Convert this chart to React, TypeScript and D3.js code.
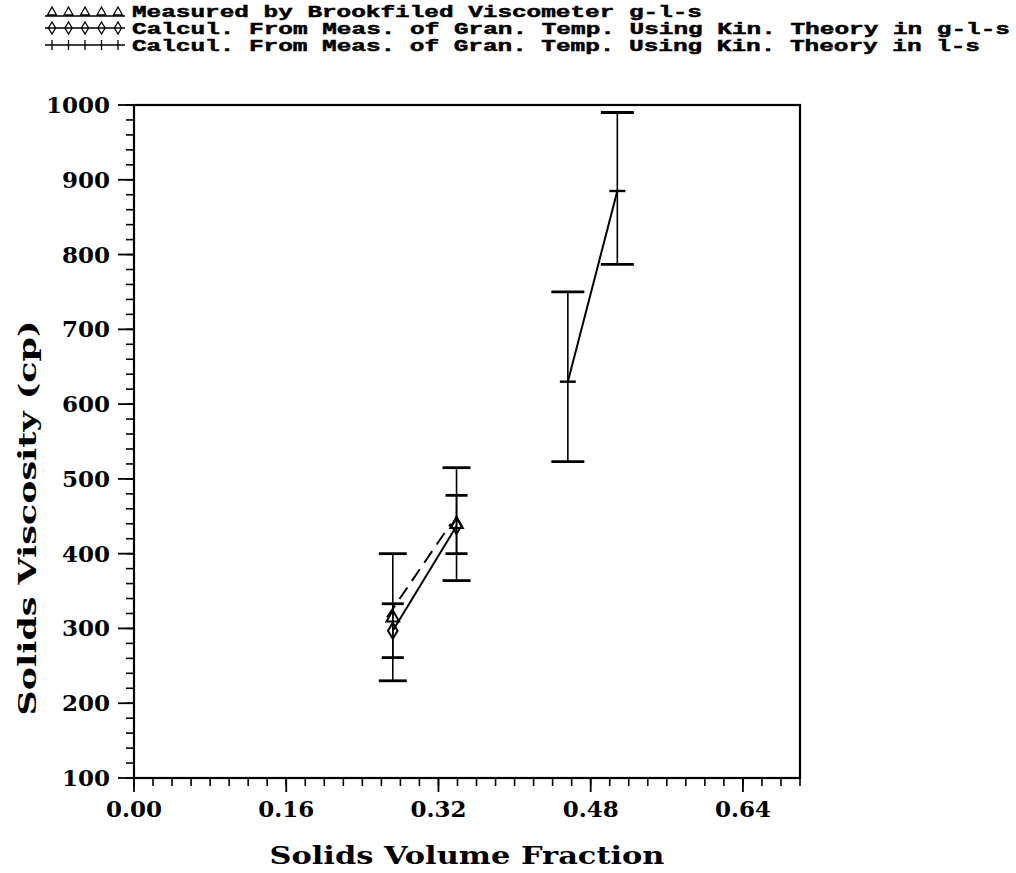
import React from "react";
import * as d3 from "d3";

const xTickValues = [0, 0.16, 0.32, 0.48, 0.64];
const xTickLabels = ["0.00", "0.16", "0.32", "0.48", "0.64"];
const yTickValues = [100, 200, 300, 400, 500, 600, 700, 800, 900, 1000];
const yTickLabels = ["100", "200", "300", "400", "500", "600", "700", "800", "900", "1000"];

const legendLabels = [
  "Measured by Brookfiled Viscometer g-l-s",
  "Calcul. From Meas. of Gran. Temp. Using Kin. Theory in g-l-s",
  "Calcul. From Meas. of Gran. Temp. Using Kin. Theory in l-s",
];

// Measured by Brookfield viscometer (g-l-s)
const measuredX = [0.272, 0.339];
const measuredY = [315, 440];
const measuredLo = [230, 364];
const measuredHi = [400, 515];

// Calculated, g-l-s
const calcGlsX = [0.272, 0.339];
const calcGlsY = [297, 437];
const calcGlsLo = [261, 400];
const calcGlsHi = [333, 478];

// Calculated, l-s
const calcLsX = [0.456, 0.508];
const calcLsY = [630, 885];
const calcLsLo = [523, 787];
const calcLsHi = [750, 990];

const W = 1016;
const H = 873;

export default function App() {
  const x = d3.scaleLinear().domain([0, 0.7]).range([134, 800]);
  const y = d3.scaleLinear().domain([100, 1000]).range([778, 105]);
  const line = d3
    .line<[number, number]>()
    .x((d) => x(d[0]))
    .y((d) => y(d[1]));

  const xMinor = d3.range(0, 0.7001, 0.02);
  const yMinor = d3.range(100, 1000.001, 20);

  const tickFont = "'DejaVu Serif', serif";
  const titleFont = "'DejaVu Serif', serif";
  const legendFont = "'Liberation Mono', monospace";

  const tri = (cx: number, cy: number, s: number) =>
    `M${cx},${cy - s} L${cx + s * 0.9},${cy + s * 0.6} L${cx - s * 0.9},${cy + s * 0.6} Z`;
  const dia = (cx: number, cy: number, s: number) =>
    `M${cx},${cy - s} L${cx + s * 0.6},${cy} L${cx},${cy + s} L${cx - s * 0.6},${cy} Z`;

  const errBars = (
    xs: number[],
    lo: number[],
    hi: number[],
    cap: number,
    key: string
  ) =>
    xs.map((xv, i) => (
      <g key={key + i} stroke="#000">
        <line x1={x(xv)} x2={x(xv)} y1={y(lo[i])} y2={y(hi[i])} strokeWidth={1.6} />
        <line x1={x(xv) - cap / 2} x2={x(xv) + cap / 2} y1={y(lo[i])} y2={y(lo[i])} strokeWidth={2.8} />
        <line x1={x(xv) - cap / 2} x2={x(xv) + cap / 2} y1={y(hi[i])} y2={y(hi[i])} strokeWidth={2.8} />
      </g>
    ));

  const legendY = [17, 34, 51];
  const legendLen = [570, 878, 848];
  const sampleX = d3.range(5).map((i) => 52 + i * 16.5);

  return (
    <svg
      width={W}
      height={H}
      style={{ position: "absolute", left: 0, top: 0, background: "#fff" }}
    >
      <rect x={0} y={0} width={W} height={H} fill="#fff" />

      {/* Legend */}
      {legendLabels.map((t, i) => (
        <text
          key={"lg" + i}
          x={132}
          y={legendY[i]}
          fontFamily={legendFont}
          fontWeight="bold"
          fontSize={17}
          textLength={legendLen[i]}
          lengthAdjust="spacingAndGlyphs"
          fill="#000"
          stroke="#000"
          strokeWidth={0.5}
        >
          {t}
        </text>
      ))}
      {/* legend sample 1: triangles */}
      <line x1={45} x2={125} y1={legendY[0] - 1} y2={legendY[0] - 1} stroke="#000" strokeWidth={1.5} />
      {sampleX.map((sx, i) => (
        <path key={"lt" + i} d={tri(sx, legendY[0] - 5, 5)} fill="none" stroke="#000" strokeWidth={1.3} />
      ))}
      {/* legend sample 2: diamonds */}
      <line x1={45} x2={125} y1={legendY[1] - 6} y2={legendY[1] - 6} stroke="#000" strokeWidth={1.5} />
      {sampleX.map((sx, i) => (
        <path key={"ld" + i} d={dia(sx, legendY[1] - 6, 6)} fill="none" stroke="#000" strokeWidth={1.3} />
      ))}
      {/* legend sample 3: plus */}
      <line x1={45} x2={125} y1={legendY[2] - 6} y2={legendY[2] - 6} stroke="#000" strokeWidth={1.5} />
      {sampleX.map((sx, i) => (
        <line key={"lp" + i} x1={sx} x2={sx} y1={legendY[2] - 11} y2={legendY[2] - 1} stroke="#000" strokeWidth={1.3} />
      ))}

      {/* Frame */}
      <rect x={134} y={105} width={800 - 134} height={778 - 105} fill="none" stroke="#000" strokeWidth={2.2} />

      {/* X ticks */}
      {xMinor.map((v, i) => (
        <line key={"xm" + i} x1={x(v)} x2={x(v)} y1={778} y2={786} stroke="#000" strokeWidth={1.6} />
      ))}
      {xTickValues.map((v, i) => (
        <g key={"xt" + i}>
          <line x1={x(v)} x2={x(v)} y1={778} y2={792} stroke="#000" strokeWidth={1.8} />
          <text
            x={x(v)}
            y={817}
            textAnchor="middle"
            fontFamily={tickFont}
            fontWeight="bold"
            fontSize={23}
            fill="#000"
          >
            {xTickLabels[i]}
          </text>
        </g>
      ))}

      {/* Y ticks */}
      {yMinor.map((v, i) => (
        <line key={"ym" + i} x1={126} x2={134} y1={y(v)} y2={y(v)} stroke="#000" strokeWidth={1.6} />
      ))}
      {yTickValues.map((v, i) => (
        <g key={"yt" + i}>
          <line x1={118} x2={134} y1={y(v)} y2={y(v)} stroke="#000" strokeWidth={1.8} />
          <text
            x={110}
            y={y(v) + 8}
            textAnchor="end"
            fontFamily={tickFont}
            fontWeight="bold"
            fontSize={23}
            fill="#000"
          >
            {yTickLabels[i]}
          </text>
        </g>
      ))}

      {/* Axis titles */}
      <text
        x={467}
        y={864}
        textAnchor="middle"
        fontFamily={titleFont}
        fontWeight="bold"
        fontSize={24}
        textLength={395}
        lengthAdjust="spacingAndGlyphs"
        fill="#000"
      >
        Solids Volume Fraction
      </text>
      <text
        transform={`translate(36,518) rotate(-90)`}
        x={0}
        y={0}
        textAnchor="middle"
        fontFamily={titleFont}
        fontWeight="bold"
        fontSize={24}
        textLength={395}
        lengthAdjust="spacingAndGlyphs"
        fill="#000"
      >
        Solids Viscosity (cp)
      </text>

      {/* Error bars */}
      {errBars(measuredX, measuredLo, measuredHi, 28, "em")}
      {errBars(calcGlsX, calcGlsLo, calcGlsHi, 22, "eg")}
      {errBars(calcLsX, calcLsLo, calcLsHi, 33, "el")}

      {/* Lines */}
      <path
        d={line(measuredX.map((v, i) => [v - 0.006, measuredY[i]] as [number, number])) || ""}
        fill="none"
        stroke="#000"
        strokeWidth={2}
        strokeDasharray="14,8"
      />
      <path
        d={line(calcGlsX.map((v, i) => [v, calcGlsY[i]] as [number, number])) || ""}
        fill="none"
        stroke="#000"
        strokeWidth={2}
      />
      <path
        d={line(calcLsX.map((v, i) => [v, calcLsY[i]] as [number, number])) || ""}
        fill="none"
        stroke="#000"
        strokeWidth={2}
      />

      {/* Markers */}
      {measuredX.map((v, i) => (
        <path key={"mt" + i} d={tri(x(v), y(measuredY[i]), 7)} fill="none" stroke="#000" strokeWidth={2} />
      ))}
      {calcGlsX.map((v, i) => (
        <path key={"md" + i} d={dia(x(v), y(calcGlsY[i]), 8)} fill="none" stroke="#000" strokeWidth={2} />
      ))}
      {calcLsX.map((v, i) => (
        <g key={"mp" + i} stroke="#000" strokeWidth={2.4}>
          <line x1={x(v) - 8} x2={x(v) + 8} y1={y(calcLsY[i])} y2={y(calcLsY[i])} />
        </g>
      ))}
    </svg>
  );
}
